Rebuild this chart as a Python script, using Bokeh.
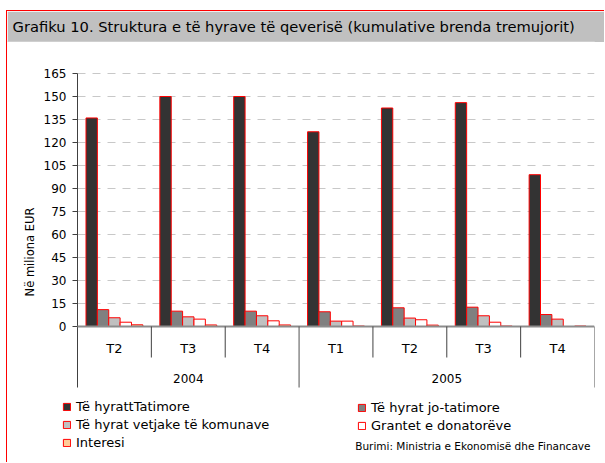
import math
from bokeh.plotting import figure
from bokeh.models import (ColumnDataSource, Range1d, Label, Legend, LegendItem, Title)
from bokeh.layouts import column
from bokeh.transform import dodge
from bokeh.embed import file_html
from bokeh.resources import INLINE

# ---------------- data ----------------
years = ["2004", "2004", "2004", "2005", "2005", "2005", "2005"]
quarters = ["T2", "T3", "T4", "T1", "T2", "T3", "T4"]
tatimore = [136.0, 150.0, 150.0, 127.0, 142.5, 146.0, 99.0]
jo_tatimore = [11.0, 10.0, 10.0, 9.6, 12.2, 12.6, 7.8]
komunave = [5.7, 6.3, 7.0, 3.5, 5.5, 7.0, 4.8]
grantet = [2.8, 4.8, 3.7, 3.5, 4.4, 2.8, 0.0]
interesi = [1.1, 1.0, 1.0, 0.3, 0.9, 0.3, 0.3]

series_names = ["Të hyrattTatimore", "Të hyrat jo-tatimore",
                "Të hyrat vetjake të komunave", "Grantet e donatorëve", "Interesi"]
series_values = [tatimore, jo_tatimore, komunave, grantet, interesi]
series_colors = ["#333333", "#808080", "#C0C0C0", "#FFFFFF", "#FFCC99"]
y_ticks = list(range(0, 166, 15))
y_tick_labels = [str(t) for t in y_ticks]

title_text = "Grafiku 10. Struktura e të hyrave të qeverisë (kumulative brenda tremujorit)"
y_label = "Në miliona EUR"
source_text = "Burimi: Ministria e Ekonomisë dhe Financave"

FONT = "DejaVu Sans"

# ---------------- layout constants (page pixels) ----------------
W = 597
TITLE_H = 31
MAIN_H = 420
PAGE_X0 = 7           # left of the figures (after the 1px border at x=6)
PAGE_Y0 = 42          # top of the main figure
FRAME_LEFT_PX = PAGE_X0
FRAME_RIGHT_PX = 594
FRAME_TOP_PX = 50
FRAME_BOTTOM_PX = PAGE_Y0 + MAIN_H
AXIS_PX = 77          # page column where x = 0 lies
TOP_TICK_PX = 73      # page row of the top tick (165)
MB_RIGHT = PAGE_X0 + W - FRAME_RIGHT_PX
MB_TOP = FRAME_TOP_PX - PAGE_Y0

n = len(quarters)
PX_PER_X = (FRAME_RIGHT_PX - AXIS_PX) / n
PX_PER_UNIT = 253.0 / 165.0
Y_MAX = 165


def py(page_y):
    """page pixel row -> data value (layout helper)"""
    return Y_MAX - (page_y - TOP_TICK_PX) / PX_PER_UNIT


def px(page_x):
    """page pixel column -> data value (layout helper)"""
    return (page_x - AXIS_PX) / PX_PER_X


Y_TOP = py(FRAME_TOP_PX)
Y_BOTTOM = py(FRAME_BOTTOM_PX)
X_MIN = px(FRAME_LEFT_PX)

src = ColumnDataSource(dict(
    xc=[i + 0.5 for i in range(n)],
    **{f"s{k}": v for k, v in enumerate(series_values)},
))

# ---------------- title band ----------------
tf = figure(width=W, height=TITLE_H, x_range=(0, 1), y_range=(0, 1),
            toolbar_location=None, output_backend="svg", title=None,
            x_axis_location=None, y_axis_location=None,
            min_border_left=0, min_border_right=MB_RIGHT,
            min_border_top=0, min_border_bottom=0,
            background_fill_color="#C0C0C0", border_fill_color="#C0C0C0",
            outline_line_color=None)
tf.xgrid.visible = False
tf.ygrid.visible = False
tf.add_layout(Title(text=title_text, align="left", offset=12 - FRAME_LEFT_PX,
                    vertical_align="middle", standoff=11, text_font=FONT,
                    text_font_size="14.7px", text_font_style="normal",
                    text_color="#000000"), "above")

# ---------------- main chart ----------------
p = figure(width=W, height=MAIN_H, x_range=Range1d(X_MIN, n),
           y_range=Range1d(Y_BOTTOM, Y_TOP),
           toolbar_location=None, output_backend="svg", title=None,
           x_axis_location=None, y_axis_location=None,
           min_border_top=MB_TOP, min_border_left=0, min_border_right=MB_RIGHT,
           min_border_bottom=0, outline_line_color=None,
           background_fill_color="white", border_fill_color="white")
p.xgrid.visible = False
p.ygrid.visible = False

# dashed horizontal grid lines (from the axis to the right end)
grid_vals = [t for t in y_ticks if t > 0]
p.segment(x0=[0] * len(grid_vals), y0=grid_vals, x1=[n] * len(grid_vals), y1=grid_vals,
          line_color="#C8C8C8", line_width=1, line_dash="8 7")

# value axis: line, ticks, tick labels, title
p.segment(x0=[0], y0=[py(387)], x1=[0], y1=[Y_MAX], line_color="#404040", line_width=1)
p.segment(x0=[px(72)] * len(y_ticks), y0=y_ticks, x1=[0] * len(y_ticks), y1=y_ticks,
          line_color="#404040", line_width=1)
p.text(x=[px(66)] * len(y_ticks), y=y_ticks, text=y_tick_labels,
       text_font={"value": FONT}, text_font_size="12px", text_align="right",
       text_baseline="middle", text_color="#000000")
p.text(x=[px(29)], y=[py(251.5)], text=[y_label], angle=math.pi / 2,
       text_font={"value": FONT}, text_font_size="11.5px", text_align="center",
       text_baseline="middle", text_color="#000000")

# bars
BAR_W = 0.154
for k, (name, color) in enumerate(zip(series_names, series_colors)):
    off = (k - 2) * BAR_W
    p.vbar(x=dodge("xc", off, range=p.x_range), top=f"s{k}", bottom=0, width=BAR_W,
           source=src, fill_color=color, line_color="#FF0000", line_width=1)

# category axis: base line, separators, labels
p.segment(x0=[0], y0=[0], x1=[n], y1=[0], line_color="#8C8C8C", line_width=2)

year_bounds = [0] + [i for i in range(1, n) if years[i] != years[i - 1]] + [n]
quarter_bounds = [i for i in range(1, n) if i not in year_bounds]
p.segment(x0=year_bounds[1:], y0=[0] * (len(year_bounds) - 1), x1=year_bounds[1:],
          y1=[py(387)] * (len(year_bounds) - 1), line_color="#505050", line_width=1)
p.segment(x0=quarter_bounds, y0=[0] * len(quarter_bounds), x1=quarter_bounds,
          y1=[py(357)] * len(quarter_bounds), line_color="#404040", line_width=1)

p.text(x=[i + 0.5 for i in range(n)], y=[py(348)] * n, text=quarters,
       text_font={"value": FONT}, text_font_size="13px", text_align="center",
       text_baseline="middle", text_color="#000000")
uniq_years = []
year_x = []
for a, b in zip(year_bounds[:-1], year_bounds[1:]):
    uniq_years.append(years[a])
    year_x.append((a + b) / 2)
p.text(x=year_x, y=[py(378)] * len(year_x), text=uniq_years,
       text_font={"value": FONT}, text_font_size="12px", text_align="center",
       text_baseline="middle", text_color="#000000")

# source note
p.add_layout(Label(x=590 - FRAME_LEFT_PX, y=FRAME_BOTTOM_PX - 445, x_units="screen",
                   y_units="screen", text=source_text, text_font=FONT,
                   text_font_size="10.5px", text_align="right", text_baseline="middle",
                   text_color="#000000"))

# legends
rends = [r for r in p.renderers if r.glyph.__class__.__name__ == "VBar"]


def make_legend(idx, loc):
    lg = Legend(items=[LegendItem(label=series_names[i], renderers=[rends[i]]) for i in idx],
                location=loc, orientation="vertical", glyph_width=9, glyph_height=9,
                label_height=9, spacing=3, padding=0, margin=0, label_standoff=5,
                label_text_font=FONT, label_text_font_size="13px",
                label_text_color="#000000", border_line_color=None,
                background_fill_alpha=0)
    p.add_layout(lg)
    return lg


make_legend([0, 2, 4], (62 - FRAME_LEFT_PX, FRAME_BOTTOM_PX - 450))
make_legend([1, 3], (357 - FRAME_LEFT_PX, FRAME_BOTTOM_PX - 433))

layout = column(tf, p, margin=(10, 0, 0, 6),
                styles={"border-left": "1px solid #FF0000",
                        "border-top": "1px solid #FF0000"})

open("out.html", "w").write(file_html(layout, INLINE))
